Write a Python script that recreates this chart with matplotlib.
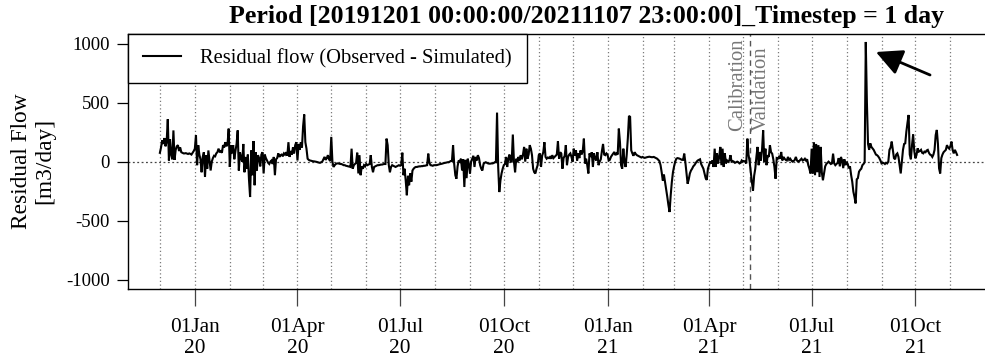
import pandas as pd
import matplotlib
matplotlib.use("Agg")
import matplotlib.pyplot as plt
import matplotlib.dates as mdates

plt.rcParams["font.family"] = ["Liberation Serif", "DejaVu Serif"]

# ---- data -------------------------------------------------------------
START = "2019-12-01"
END = "2021-11-07"
SPLIT = "2021-05-07"          # calibration / validation boundary

title_text = "Period [20191201 00:00:00/20211107 23:00:00]_Timestep = 1 day"
legend_label = "Residual flow (Observed - Simulated)"
y_label = "Residual Flow\n[m3/day]"
y_ticks = [-1000, -500, 0, 500, 1000]
x_tick_dates = ["2020-01-01", "2020-04-01", "2020-07-01", "2020-10-01",
                "2021-01-01", "2021-04-01", "2021-07-01", "2021-10-01"]

# daily residual flow, one row per month
residual_flow = [
    # Dec 2019
    75, 120, 180, 150, 200, 130, 170, 360, 10, 190, 60, 20, 265, 15, 100, 130,
    140, 90, 120, 80, 75, 70, 70, 72, 68, 65, 70, 66, 60, 75, 90,
    # Jan 2020
    110, 225, -30, 140, 60, 20, -90, 40, 80, -130, 55, -60, 95, 10, -75, 0,
    30, 50, 45, 70, 80, 110, 85, 90, 75, 140, 120, 165, 130, 150, 280,
    # Feb 2020
    -45, 140, 70, 140, 20, 90, 150, 265, -75, 80, 30, 0, 150, -90, 40, -60,
    60, -150, -300, 95, -115, 175, -200, 80, -75, 55, 30, -40, 60,
    # Mar 2020
    80, -100, 60, 30, 10, -10, -20, 0, 10, -20, 40, -115, 20, 30, 70, 40,
    55, 60, 45, 70, 60, 80, 50, 165, 40, 90, 60, 120, 70, 140, 165,
    # Apr 2020
    10, 150, 100, 165, 120, 300, 400, 165, 110, 25, 15, 10, 8, 5, 3, 2,
    0, -2, -5, -8, -10, -5, 0, 20, 40, 15, 30, 55, 20, 5,
    # May 2020
    210, 0, -45, -30, -20, -15, -15, -17, -20, -20, -25, -30, -30, -35, -37, -40,
    -42, -45, 110, -60, -30, -20, -10, 76, -100, 55, -115, -40, -60, -30, -40,
    # Jun 2020
    -20, -30, -25, -20, 55, -45, -90, -45, -40, -35, -30, -30, -28, -25, -25, -22,
    -20, -20, 195, 140, -30, -90, -45, -30, -35, -40, -45, -40, -35, -30,
    # Jul 2020
    -35, -30, 76, -115, -60, -160, -285, -120, -200, -100, -170, -75, -60, -50, -45, -45,
    -42, -40, -40, -38, -38, -35, -35, -32, -30, 68, -10, -30, -32, -35, -30,
    # Aug 2020
    -30, -30, -28, -25, -22, -20, -18, -15, -12, -10, -8, -5, -5, 0, 5, 5,
    140, -20, -115, -145, -40, 10, 0, 25, -75, 20, -215, 15, -140, 25, -20,
    # Sep 2020
    -100, 0, 25, 50, -45, 40, 10, 55, 30, -30, -60, -75, -20, -10, -5, -10,
    -15, -17, -17, -15, -15, -12, -5, -5, 416, -45, -258, -160, -100, -60,
    # Oct 2020
    -30, -20, 40, -45, 25, 60, 0, 0, 230, 0, -90, 25, -5, 40, 10, 55,
    20, 60, 125, 0, 110, 25, 60, 140, 110, 55, -60, -90, -100, -60, -30,
    # Nov 2020
    55, 70, -45, 50, 80, 165, 40, 25, 35, 30, 40, 25, 55, 30, 40, 50,
    60, 173, 25, 80, 68, -60, 30, 50, 140, -30, 40, 60, 70, 40,
    # Dec 2020
    0, 110, 50, 95, 10, 70, 30, 95, 60, 90, 195, -15, 25, -30, -100, 70,
    40, 80, -45, 70, 30, 10, 80, -30, 0, 20, 90, 150, 60, 55, 70,
    # Jan 2021
    60, 10, 15, 40, 55, 68, 82, 55, 70, 60, 280, 165, -30, -60, 110, 0,
    -45, 60, 200, 388, 380, 96, 70, 50, 80, 65, 55, 50, 45, 40, 35,
    # Feb 2021
    40, 35, 32, 35, 38, 40, 42, 40, 38, 38, 40, 35, 30, 25, 15, 5,
    -30, -90, -160, -110, -173, -230, -300, -370, -427, -285, -173, -90,
    # Mar 2021
    -40, 0, 25, 30, 28, 25, 20, 15, 15, 68, -5, -100, -187, -150, -100, -75,
    -60, -40, -30, -15, 0, 10, 15, 20, -20, -40, -60, -100, -140, -155, -60,
    # Apr 2021
    -30, 0, -15, 10, -45, 110, -45, 70, -15, 40, 125, -30, 110, -45, 70, -15,
    10, 0, 10, 55, 0, 5, 0, -10, -5, 0, -5, -15, -10, 10,
    # May 2021
    0, 5, 0, -15, 195, 60, 0, -90, -173, -245, -120, -60, 40, 125, -30, 82,
    10, 100, 266, 0, 110, -30, 55, 40, 140, 80, 68, 20, -45, -145, 30,
    # Jun 2021
    25, 40, 25, 82, 10, 40, 25, 15, 10, 40, 15, 25, 10, 0, 5, 15,
    40, 10, 0, 5, 15, 25, 10, 15, 25, 10, 20, -30, -60, -100,
    # Jul 2021
    110, -100, 165, -115, 150, -90, 140, -130, 125, -90, -158, -100, -40, -20, -10, 0,
    -10, -20, -15, 68, -15, -30, -20, -10, 30, -40, 40, 10, -55, 20, -30,
    # Aug 2021
    0, -20, -57, -40, -113, -170, -255, -300, -354, -150, -140, -85, -70, -60, -30, -20,
    -5, 1015, 500, 150, 100, 155, 125, 113, 100, 80, 60, 55, 45, 30, 10,
    # Sep 2021
    -15, -10, -12, -20, -10, -15, 0, 100, 120, 170, 100, 30, 20, 60, 70, 40,
    -30, -100, 0, 100, 150, 155, 255, 330, 396, 60, 20, 140, 230, 90,
    # Oct 2021
    28, 57, 113, 85, 90, 100, 75, 70, 85, 80, 95, 100, 75, 60, 55, 40,
    60, 100, 226, 269, 150, -57, -100, 30, 60, 80, 90, 100, 140, 120, 110,
    # Nov 2021
    130, 170, 100, 70, 100, 80, 57,
]

dates = pd.date_range(START, END, freq="D")
assert len(dates) == len(residual_flow)

# ---- figure / axes ----------------------------------------------------
W, H = 985, 360
fig = plt.figure(figsize=(W / 100, H / 100), dpi=100)
ax_l, ax_r, ax_t, ax_b = 128, 989, 34.3, 289
ax = fig.add_axes([ax_l / W, 1 - ax_b / H, (ax_r - ax_l) / W, (ax_b - ax_t) / H])

t0 = mdates.date2num(dates[0])
t1 = mdates.date2num(dates[-1])
pad = 0.04 * (t1 - t0)
ax.set_xlim(t0 - pad, t1 + pad)
ax.set_ylim(-1080, 1080)

# monthly dotted guides, zero line and calibration/validation split
for m in pd.date_range(START, END, freq="MS"):
    ax.axvline(m, color="#7a7a7a", lw=0.9, ls=(0, (1, 2)), zorder=1)
ax.axhline(0, color="#444444", lw=0.9, ls=(0, (1.5, 2)), zorder=1)
split = pd.Timestamp(SPLIT)
ax.axvline(split, color="#555555", lw=1.0, ls=(0, (4, 3)), zorder=1)

ax.plot(dates, residual_flow, color="black", lw=1.5, zorder=3,
        label=legend_label, solid_joinstyle="miter")

ax.text(split - pd.Timedelta(days=11), 260, "Calibration", rotation=90,
        rotation_mode="anchor", ha="left", va="center", color="#777777",
        fontsize=14.9, zorder=2)
ax.text(split + pd.Timedelta(days=10), 260, "Validation", rotation=90,
        rotation_mode="anchor", ha="left", va="center", color="#777777",
        fontsize=14.9, zorder=2)

# arrow pointing at the peak
ax.annotate("", xy=(pd.Timestamp("2021-08-27"), 930),
            xytext=(pd.Timestamp("2021-10-14"), 735),
            arrowprops=dict(arrowstyle="-|>,head_length=0.8,head_width=0.4",
                            color="black", lw=2, shrinkA=0, shrinkB=0,
                            mutation_scale=20),
            zorder=4)

# axes frame
for side in ("top", "left", "bottom"):
    ax.spines[side].set_linewidth(1.0)
    ax.spines[side].set_color("black")
ax.spines["right"].set_visible(False)

ax.set_yticks(y_ticks)
ax.set_yticklabels([str(v) for v in y_ticks])
ax.tick_params(axis="y", length=8, width=0.9, pad=5, labelsize=13.5)

xt = pd.to_datetime(x_tick_dates)
ax.set_xticks(xt)
ax.set_xticklabels([d.strftime("%d%b\n%y") for d in xt])
ax.tick_params(axis="x", length=12, width=0.9, color="#444444", pad=9,
               labelsize=15.4)
for lab in ax.get_xticklabels():
    lab.set_linespacing(1.15)

leg = ax.legend(loc="upper left", bbox_to_anchor=(0, 1), borderaxespad=0,
                frameon=True, fancybox=False, edgecolor="black", framealpha=1,
                fontsize=14.8, handlelength=1.85, handletextpad=0.95,
                borderpad=0.72)
leg.get_frame().set_linewidth(1.0)
leg.set_zorder(5)

fig.text(587 / W, 1 - 17 / H, title_text, ha="center", va="center",
         fontsize=18.6, fontweight="bold")
fig.text(33 / W, 1 - 161 / H, y_label, rotation=90, ha="center", va="center",
         multialignment="center", fontsize=16.8, linespacing=1.15)

fig.savefig("out.png", dpi=100)
